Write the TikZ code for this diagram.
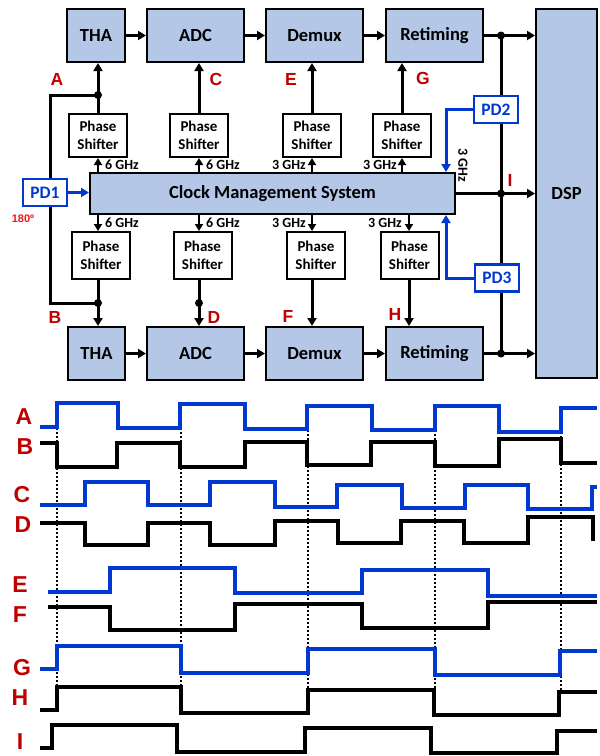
\documentclass[tikz,border=0pt]{standalone}
\usepackage{fontspec}
\setmainfont{Carlito}
\newfontfamily\arialf{Liberation Sans}
\usetikzlibrary{arrows.meta}
\definecolor{blkfill}{RGB}{180,199,231}
\definecolor{wblue}{RGB}{0,56,208}
\definecolor{lblred}{RGB}{192,0,0}
\definecolor{brred}{RGB}{240,20,20}
\begin{document}
\begin{tikzpicture}[x=1pt,y=-1pt,
  blk/.style={draw=black,line width=2pt,fill=blkfill,font=\bfseries\fontsize{18.5}{20}\selectfont,inner sep=0pt},
  psbox/.style={draw=black,line width=2pt,fill=white,minimum width=58pt,align=center,font=\bfseries\fontsize{15}{18}\selectfont,inner sep=0pt},
  pdbox/.style={draw=wblue,line width=2.2pt,fill=white,text=wblue,minimum width=44pt,minimum height=27pt,font=\bfseries\fontsize{17.5}{19}\selectfont,inner sep=0pt},
  arr/.style={line width=3pt,-{Triangle[length=8pt,width=9pt]}},
  sarr/.style={line width=2.5pt,-{Triangle[length=7pt,width=8pt]}},
  barr/.style={line width=3pt,draw=wblue,-{Triangle[length=8pt,width=9pt]}},
  ln/.style={line width=3pt},
  dotn/.style={circle,fill=black,inner sep=0pt,minimum size=8pt},
  ghz/.style={font=\bfseries\fontsize{14}{16}\selectfont,inner sep=0pt},
  lab/.style={font=\arialf\bfseries\fontsize{17.5}{19}\selectfont,text=lblred,inner sep=0pt},
  tlab/.style={font=\arialf\bfseries\fontsize{23}{25}\selectfont,text=lblred,inner sep=0pt},
  wb/.style={line width=3.3pt,draw=wblue,line join=miter},
  wk/.style={line width=3.3pt,draw=black,line join=miter},
  vdot/.style={line width=2pt,dash pattern=on 2pt off 2pt},
]
\useasboundingbox (0,0) rectangle (600,756);

% columns
\coordinate (t1) at (98,0);
\coordinate (t2) at (199,0);
\coordinate (t3) at (312,0);
\coordinate (t4) at (402,0);
\coordinate (b1) at (98,0);
\coordinate (b2) at (199,0);
\coordinate (b3) at (312,0);
\coordinate (b4) at (409,0);
\coordinate (bus) at (501,0);
\coordinate (px) at (446,0);
\coordinate (dA) at (98,95);
\coordinate (dB) at (98,303);
\coordinate (dD) at (199,303);
\coordinate (cl1) at (50,95);
\coordinate (cl2) at (50,303);

% loop line behind PD1
\draw[ln] (dA) -- (cl1) -- (cl2) -- (dB);

% blocks
\node[blk,minimum width=58pt,minimum height=53pt] (tha1) at (96,35.5) {THA};
\node[blk,minimum width=97pt,minimum height=53pt] (adc1) at (195.5,35.5) {ADC};
\node[blk,minimum width=97pt,minimum height=53pt] (dmx1) at (314.5,35.5) {Demux};
\node[blk,minimum width=97pt,minimum height=53pt] (ret1) at (434.5,35.5) {Retiming};
\node[blk,minimum width=57pt,minimum height=53pt] (tha2) at (96.5,353.5) {THA};
\node[blk,minimum width=97pt,minimum height=53pt] (adc2) at (195.5,353.5) {ADC};
\node[blk,minimum width=97pt,minimum height=53pt] (dmx2) at (314.5,353.5) {Demux};
\node[blk,minimum width=97pt,minimum height=53pt] (ret2) at (434.5,353.5) {Retiming};
\node[blk,minimum width=61pt,minimum height=369pt] (dsp) at (566.5,193.5) {DSP};
\node[blk,minimum width=365pt,minimum height=41pt] (cms) at (272.5,193.5) {Clock Management System};

% bus line behind PD2/PD3
\draw[ln] (bus |- ret1.east) -- (bus |- ret2.east);

% phase shifters
\node[psbox,minimum height=43pt] (ps1) at (98,135.5) {Phase\\Shifter};
\node[psbox,minimum height=43pt] (ps2) at (199,135.5) {Phase\\Shifter};
\node[psbox,minimum height=43pt] (ps3) at (312,135.5) {Phase\\Shifter};
\node[psbox,minimum height=43pt] (ps4) at (402,135.5) {Phase\\Shifter};
\node[psbox,minimum height=47pt] (ps5) at (101,255.5) {Phase\\Shifter};
\node[psbox,minimum height=47pt] (ps6) at (202.5,255.5) {Phase\\Shifter};
\node[psbox,minimum height=47pt] (ps7) at (316,255.5) {Phase\\Shifter};
\node[psbox,minimum height=47pt] (ps8) at (409.5,255.5) {Phase\\Shifter};

% phase detectors
\node[pdbox] (pd1) at (45,192.5) {PD1};
\node[pdbox] (pd2) at (496,109.5) {PD2};
\node[pdbox] (pd3) at (497,278) {PD3};

% horizontal data arrows
\draw[arr] (tha1.east) -- (adc1.west);
\draw[arr] (adc1.east) -- (dmx1.west);
\draw[arr] (dmx1.east) -- (ret1.west);
\draw[arr] (ret1.east) -- (ret1.east -| dsp.west);
\draw[arr] (tha2.east) -- (adc2.west);
\draw[arr] (adc2.east) -- (dmx2.west);
\draw[arr] (dmx2.east) -- (ret2.west);
\draw[arr] (ret2.east) -- (ret2.east -| dsp.west);
\draw[arr] (cms.east) -- (cms.east -| dsp.west);
\node[dotn] (j1) at (bus |- ret1.east) {};
\node[dotn] (j2) at (bus |- ret2.east) {};
\node[dotn] (j3) at (bus |- cms.east) {};

% CMS to phase shifters
\draw[sarr] (t1 |- cms.north) -- (t1 |- ps1.south);
\draw[sarr] (t2 |- cms.north) -- (t2 |- ps2.south);
\draw[sarr] (t3 |- cms.north) -- (t3 |- ps3.south);
\draw[sarr] (t4 |- cms.north) -- (t4 |- ps4.south);
\draw[sarr] (b1 |- cms.south) -- (b1 |- ps5.north);
\draw[sarr] (b2 |- cms.south) -- (b2 |- ps6.north);
\draw[sarr] (b3 |- cms.south) -- (b3 |- ps7.north);
\draw[sarr] (b4 |- cms.south) -- (b4 |- ps8.north);

% phase shifters to blocks
\draw[arr] (t1 |- ps1.north) -- (t1 |- tha1.south);
\draw[arr] (t2 |- ps2.north) -- (t2 |- adc1.south);
\draw[arr] (t3 |- ps3.north) -- (t3 |- dmx1.south);
\draw[arr] (t4 |- ps4.north) -- (t4 |- ret1.south);
\draw[arr] (b1 |- ps5.south) -- (b1 |- tha2.north);
\draw[arr] (b2 |- ps6.south) -- (b2 |- adc2.north);
\draw[arr] (b3 |- ps7.south) -- (b3 |- dmx2.north);
\draw[arr] (b4 |- ps8.south) -- (b4 |- ret2.north);
\node[dotn] (jA) at (dA) {};
\node[dotn] (jB) at (dB) {};
\node[dotn] (jD) at (dD) {};

% PD arrows
\draw[barr] (pd1.east) -- (pd1.east -| cms.west);
\draw[barr] (pd2.west) -| (px |- cms.north);
\draw[barr] (pd3.west) -| (px |- cms.south);

% frequency labels
\node[ghz,anchor=west] (f1) at (105,165) {6 GHz};
\node[ghz,anchor=west] (f2) at (206,165) {6 GHz};
\node[ghz,anchor=east] (f3) at (306,165) {3 GHz};
\node[ghz,anchor=east] (f4) at (397,165) {3 GHz};
\node[ghz,anchor=west] (f5) at (105,223) {6 GHz};
\node[ghz,anchor=west] (f6) at (206,223) {6 GHz};
\node[ghz,anchor=east] (f7) at (306,223) {3 GHz};
\node[ghz,anchor=east] (f8) at (402,223) {3 GHz};
\node[ghz,rotate=-90] (f9) at (463,165) {3 GHz};
\node[font=\arialf\bfseries\fontsize{11}{12}\selectfont,text=brred,inner sep=0pt] (deg) at (23,219) {180º};

% red node labels
\node[lab] (lA) at (57,79) {A};
\node[lab] (lC) at (216,79) {C};
\node[lab] (lE) at (291,79) {E};
\node[lab] (lG) at (423,78) {G};
\node[lab] (lB) at (55,317) {B};
\node[lab] (lD) at (214,317) {D};
\node[lab] (lF) at (288,316) {F};
\node[lab] (lH) at (395,314) {H};
\node[lab] (lI) at (510,180) {I};

% timing labels
\node[tlab] (tA) at (24,417) {A};
\node[tlab] (tB) at (25,447) {B};
\node[tlab] (tC) at (22,495) {C};
\node[tlab] (tD) at (23,525) {D};
\node[tlab] (tE) at (20,585) {E};
\node[tlab] (tF) at (20,615) {F};
\node[tlab] (tG) at (22,668) {G};
\node[tlab] (tH) at (20,698) {H};
\node[tlab] (tI) at (20,742) {I};

% dotted markers
\coordinate (v1a) at (56.5,428); \coordinate (v1b) at (56.5,688);
\coordinate (v2a) at (180.5,428); \coordinate (v2b) at (180.5,688);
\coordinate (v3a) at (307.5,430); \coordinate (v3b) at (307.5,690);
\coordinate (v4a) at (434.5,430); \coordinate (v4b) at (434.5,690);
\coordinate (v5a) at (560.5,432); \coordinate (v5b) at (560.5,692);
\draw[vdot] (v1a) -- (v1b);
\draw[vdot] (v2a) -- (v2b);
\draw[vdot] (v3a) -- (v3b);
\draw[vdot] (v4a) -- (v4b);
\draw[vdot] (v5a) -- (v5b);

% waveforms
\draw[wb] (40,427) -- (57,427) -- (57,403) -- (118,403) -- (118,428) -- (180,428) -- (180,404) -- (245,404) -- (245,429) -- (307,429) -- (307,406) -- (372,406) -- (372,430) -- (435,430) -- (435,406) -- (499,406) -- (499,432) -- (561,432) -- (561,408) -- (597,408);
\draw[wk] (40,443) -- (57,443) -- (57,467) -- (117,467) -- (117,443) -- (180,443) -- (180,467) -- (245,467) -- (245,442) -- (307,442) -- (307,465) -- (371,465) -- (371,442) -- (435,442) -- (435,466) -- (499,466) -- (499,439) -- (561,439) -- (561,463) -- (597,463);
\draw[wb] (40,505) -- (85,505) -- (85,482) -- (148,482) -- (148,505) -- (210,505) -- (210,482) -- (275,482) -- (275,507) -- (337,507) -- (337,485) -- (402,485) -- (402,508) -- (465,508) -- (465,485) -- (528,485) -- (528,509) -- (592,509) -- (592,487) -- (597,487);
\draw[wk] (40,523) -- (85,523) -- (85,545) -- (148,545) -- (148,523) -- (210,523) -- (210,545) -- (275,545) -- (275,521) -- (338,521) -- (338,543) -- (401,543) -- (401,521) -- (464,521) -- (464,543) -- (528,543) -- (528,517) -- (593,517) -- (593,541);
\draw[wb] (48,592) -- (110,592) -- (110,568) -- (235,568) -- (235,593) -- (362,593) -- (362,570) -- (488,570) -- (488,596) -- (597,596);
\draw[wk] (48,607) -- (110,607) -- (110,630) -- (235,630) -- (235,604) -- (362,604) -- (362,628) -- (488,628) -- (488,602) -- (597,602);
\draw[wb] (40,669) -- (57,669) -- (57,646) -- (181,646) -- (181,673) -- (308,673) -- (308,649) -- (435,649) -- (435,675) -- (560,675) -- (560,651) -- (597,651);
\draw[wk] (40,710) -- (57,710) -- (57,687) -- (181,687) -- (181,713) -- (308,713) -- (308,690) -- (434,690) -- (434,715) -- (559,715) -- (559,692) -- (597,692);
\draw[wk] (40,748) -- (52,748) -- (52,725) -- (177,725) -- (177,752) -- (305,752) -- (305,728) -- (431,728) -- (431,753) -- (557,753) -- (557,731) -- (597,731);
\end{tikzpicture}
\end{document}
